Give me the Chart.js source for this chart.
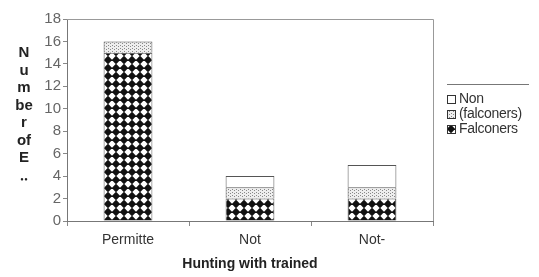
<!DOCTYPE html>
<html>
<head>
<meta charset="utf-8">
<script src="https://cdn.jsdelivr.net/npm/chart.js@4.4.0/dist/chart.umd.min.js"></script>
<style>
  body { margin: 0; background: #fff; font-family: "Liberation Sans", Arial, sans-serif; }
  #wrap { position: relative; width: 539px; height: 277px; }
  #yTitle { position: absolute; left: 10px; top: 43px; width: 28px; text-align: center;
    font-weight: bold; font-size: 15px; line-height: 17.5px; color: #222; }
  #legend { position: absolute; left: 447px; top: 84px; width: 82px; border-top: 1px solid #777;
    padding-top: 6px; font-size: 14px; color: #333; }
  #legend div { height: 15px; line-height: 15px; white-space: nowrap; letter-spacing: -0.3px; }
  #legend canvas { vertical-align: -1px; margin-right: 3px; }
</style>
</head>
<body>
<div id="wrap">
  <canvas id="grafica" width="539" height="277"></canvas>
  <div id="yTitle"></div>
  <div id="legend"></div>
</div>
<script>
// datos
const categorias = ['Permitte', 'Not', 'Not-'];
const falconers = [15, 2, 2];
const falconersParen = [1, 1, 1];
const nonFalconers = [0, 1, 2];
const nombres = ['Falconers', '(falconers)', 'Non'];
const yTitulo = ['N', 'u', 'm', 'be', 'r', 'of', 'E', '\u2025'];
const xTitulo = 'Hunting with trained';

// patrones de relleno
function patronDiamante() {
  const c = document.createElement('canvas');
  c.width = 8; c.height = 8;
  const g = c.getContext('2d');
  g.fillStyle = '#fff'; g.fillRect(0, 0, 8, 8);
  g.fillStyle = '#111';
  g.beginPath();
  g.moveTo(4, -0.3); g.lineTo(8.3, 4); g.lineTo(4, 8.3); g.lineTo(-0.3, 4);
  g.closePath(); g.fill();
  return c;
}
function patronPuntos() {
  const c = document.createElement('canvas');
  c.width = 4; c.height = 3;
  const g = c.getContext('2d');
  g.fillStyle = '#eee'; g.fillRect(0, 0, 4, 3);
  g.fillStyle = '#888';
  g.fillRect(0, 0, 1, 1); g.fillRect(2, 1, 1, 1);
  return c;
}
function patronBlanco() {
  const c = document.createElement('canvas');
  c.width = 2; c.height = 2;
  const g = c.getContext('2d');
  g.fillStyle = '#fff'; g.fillRect(0, 0, 2, 2);
  return c;
}

var ctx = document.getElementById('grafica').getContext('2d');
const tiles = [patronDiamante(), patronPuntos(), patronBlanco()];
const rellenos = tiles.map(t => ctx.createPattern(t, 'repeat'));
const valores = [falconers, falconersParen, nonFalconers];

const marco = {
  id: 'marco',
  afterDraw(chart) {
    const a = chart.chartArea, g = chart.ctx;
    g.save();
    g.strokeStyle = '#999'; g.lineWidth = 1;
    g.beginPath();
    g.moveTo(a.left, a.top + 0.5); g.lineTo(a.right + 0.5, a.top + 0.5); g.lineTo(a.right + 0.5, a.bottom);
    g.stroke();
    g.restore();
  }
};

var chart = new Chart(ctx, {
  type: 'bar',
  data: {
    labels: categorias,
    datasets: nombres.map((n, i) => ({
      label: n,
      data: valores[i],
      backgroundColor: rellenos[i],
      borderColor: '#555',
      borderWidth: 1,
      categoryPercentage: 1,
      barPercentage: 0.4
    }))
  },
  plugins: [marco],
  options: {
    responsive: false,
    animation: false,
    layout: { padding: { left: 0, right: 106, top: 19, bottom: 4 } },
    plugins: { legend: { display: false }, tooltip: { enabled: false } },
    scales: {
      x: {
        stacked: true,
        afterFit: s => { s.height = 52; },
        grid: { drawOnChartArea: false, tickLength: 5, color: '#888' },
        border: { color: '#777' },
        ticks: { color: '#333', font: { family: 'Liberation Sans', size: 14 }, padding: 6 },
        title: { display: true, text: xTitulo, color: '#222', padding: { top: 0, bottom: 0 },
          font: { family: 'Liberation Sans', size: 14, weight: 'bold' } }
      },
      y: {
        stacked: true,
        min: 0, max: 18,
        afterFit: s => { s.width = 67; },
        grid: { drawOnChartArea: false, tickLength: 4, color: '#888' },
        border: { color: '#777' },
        ticks: { stepSize: 2, color: '#666', padding: 2, font: { family: 'Liberation Sans', size: 15 } }
      }
    }
  }
});

// titulo eje y y leyenda
document.getElementById('yTitle').innerHTML = yTitulo.join('<br>');
const leyenda = document.getElementById('legend');
[2, 1, 0].forEach(i => {
  const fila = document.createElement('div');
  const sw = document.createElement('canvas');
  sw.width = 9; sw.height = 9;
  const g = sw.getContext('2d');
  g.fillStyle = g.createPattern(tiles[i], 'repeat');
  g.fillRect(0, 0, 9, 9);
  g.strokeStyle = '#333'; g.strokeRect(0.5, 0.5, 8, 8);
  fila.appendChild(sw);
  fila.appendChild(document.createTextNode(nombres[i]));
  leyenda.appendChild(fila);
});
</script>
</body>
</html>
